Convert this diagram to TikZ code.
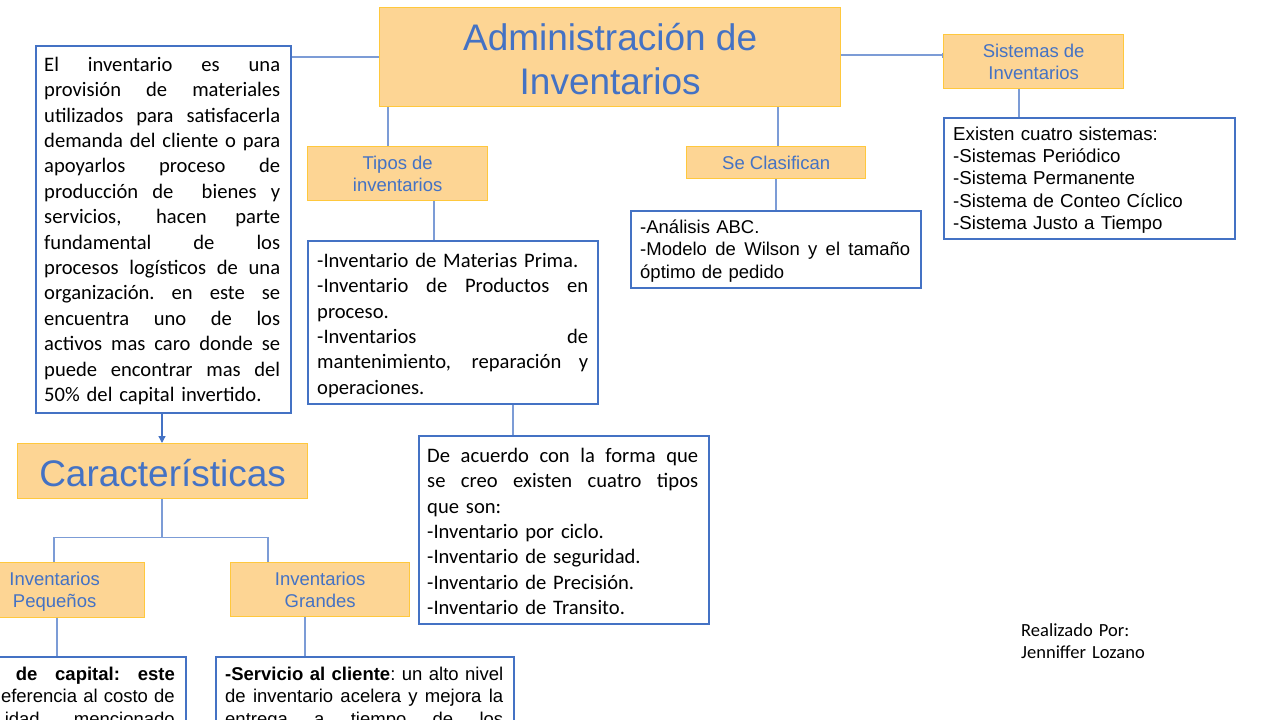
\documentclass[tikz,border=0pt]{standalone}
\usepackage{fontspec}
\setmainfont{Liberation Sans}
\newfontfamily\carl{Carlito}
\usetikzlibrary{arrows.meta}
\setlength{\parindent}{0pt}
\definecolor{boxfill}{HTML}{FDD594}
\definecolor{boxline}{HTML}{FFC83D}
\definecolor{tblue}{HTML}{4472C4}
\definecolor{cline}{HTML}{7C9CD6}
\newcommand{\spreadbox}[2]{\hbox to #1{\spaceskip=\fontdimen2\font plus 1fil\relax\xspaceskip=\spaceskip #2}}
\newcommand{\jline}[1]{\spreadbox{\hsize}{#1}}
\newcommand{\pline}[1]{\hbox to \hsize{#1\hfil}}
\newcommand{\rline}[1]{\hbox to \hsize{\hfil#1}}
\newcommand{\mystrut}[1]{\rule{0pt}{#1pt}}
\tikzset{
  obox/.style={draw=boxline, fill=boxfill, line width=1.3pt, inner sep=0pt, text=tblue, align=center, anchor=north west},
  wbox/.style={draw=tblue, fill=white, line width=1.8pt, inner sep=0pt, anchor=north west},
  conn/.style={draw=cline, line width=1.3pt},
  tx/.style={inner sep=0pt, anchor=north west},
  carlf/.style={font=\carl\fontsize{20.6}{25.4}\selectfont},
  arialf/.style={font=\fontsize{18.5}{22.4}\selectfont},
  labf/.style={font=\fontsize{18.5}{22}\selectfont},
}
\begin{document}
\begin{tikzpicture}[x=1pt,y=-1pt]
\useasboundingbox (0,0) rectangle (1280,720);
\clip (0,0) rectangle (1280,720);
\fill[white] (0,0) rectangle (1280,720);

% ---------- boxes ----------
\node[obox, minimum width=461pt, minimum height=99pt, font=\fontsize{37}{44}\selectfont] (title) at (379,7) {\mystrut{30.5}Administraci\smash{ó}n de\\Inventarios};
\node[wbox, minimum width=255pt, minimum height=367pt] (lbox) at (35,45) {};
\node[obox, minimum width=180pt, minimum height=54pt, labf] (sist) at (943,34) {Sistemas de\\Inventarios};
\node[wbox, minimum width=291pt, minimum height=121pt] (exist) at (943,117) {};
\node[obox, minimum width=180pt, minimum height=54pt, labf] (tipos) at (307,146) {Tipos de\\inventarios};
\node[wbox, minimum width=290pt, minimum height=163pt] (tlist) at (307,240) {};
\node[wbox, minimum width=290pt, minimum height=188pt] (acuerdo) at (418,435) {};
\node[obox, minimum width=179pt, minimum height=32pt, labf] (clas) at (686,146) {Se Clasifican};
\node[wbox, minimum width=290pt, minimum height=77pt] (analisis) at (630,210) {};
\node[obox, minimum width=290pt, minimum height=55pt, font=\fontsize{37}{44}\selectfont] (carac) at (17,443) {\mystrut{31}Caracter\smash{í}sticas};
\node[obox, minimum width=180pt, minimum height=55pt, labf] (peq) at (-36,562) {Inventarios\\Pe\smash{q}ueños};
\node[obox, minimum width=179pt, minimum height=54pt, labf] (gran) at (230,562) {Inventarios\\Grandes};
\node[wbox, minimum width=290pt, minimum height=100pt] (blbox) at (-105,656) {};
\node[wbox, minimum width=298pt, minimum height=100pt] (brbox) at (215,656) {};

% ---------- texts ----------
\node[tx, carlf, text width=236pt] (ltext) at (44,51) {%
\jline{\mystrut{20}El inventario es una}
\jline{provisión de materiales}
\jline{utilizados para satisfacerla}
\jline{demanda del cliente o para}
\jline{apoyarlos proceso de}
\jline{producción de \ bienes y}
\jline{servicios, hacen parte}
\jline{fundamental de los}
\jline{procesos logísticos de una}
\jline{organización. en este se}
\jline{encuentra uno de los}
\jline{activos mas caro donde se}
\jline{puede encontrar mas del}
\pline{50\% del capital invertido.}};

\node[tx, font=\fontsize{18.7}{22.3}\selectfont, text width=280pt] (etext) at (953,122) {%
\pline{\mystrut{18}Existen cuatro sistemas:}
\pline{-Sistemas Periódico}
\pline{-Sistema Permanente}
\pline{-Sistema de Conteo Cíclico}
\pline{-Sistema Justo a Tiempo}};

\node[tx, carlf, text width=271pt] (ttext) at (317,247) {%
\pline{\mystrut{20}-Inventario de Materias Prima.}
\jline{-Inventario de Productos en}
\pline{proceso.}
\jline{-Inventarios de}
\jline{mantenimiento, reparación y}
\pline{operaciones.}};

\node[tx, carlf, text width=271pt] (atext) at (427,442) {%
\jline{\mystrut{20}De acuerdo con la forma que}
\jline{se creo existen cuatro tipos}
\pline{que son:}
\pline{-Inventario por ciclo.}
\pline{-Inventario de seguridad.}
\pline{-Inventario de Precisión.}
\pline{-Inventario de Transito.}};

\node[tx, arialf, text width=270pt] (antext) at (640,215) {%
\pline{\mystrut{18}-Análisis ABC.}
\jline{-Modelo de Wilson y el tamaño}
\pline{óptimo de pedido}};

\node[tx, arialf, text width=270pt, anchor=north east] (bltext) at (175,662) {%
\rline{\mystrut{18}\bfseries\spreadbox{159pt}{de capital: este}}
\rline{eferencia al costo de}
\rline{\spreadbox{170pt}{idad mencionado}}};

\node[tx, arialf, text width=278pt] (brtext) at (225,662) {%
\jline{\mystrut{18}\textbf{-Servicio al cliente}: un alto nivel}
\jline{de inventario acelera y mejora la}
\jline{entrega a tiempo de los}};

\node[tx, font=\carl\fontsize{18.5}{22}\selectfont, text width=160pt] (autor) at (1021,619) {%
\pline{\mystrut{17}Realizado Por:}
\pline{Jenniffer Lozano}};

% ---------- connectors ----------
\draw[conn] ([yshift=-12pt]lbox.north east) -- ([yshift=-50pt]title.north west);
\draw[conn, -{Bar[width=5pt,line width=1pt]}] ([yshift=-48pt]title.north east) -- ([yshift=-21pt]sist.north west);
\draw[conn] ([xshift=76pt]sist.south west) -- ([xshift=76pt]exist.north west);
\draw[conn] ([xshift=9pt]title.south west) -- ([xshift=81pt]tipos.north west);
\draw[conn] ([xshift=127pt]tipos.south west) -- ([xshift=127pt]tlist.north west);
\draw[conn] ([xshift=206pt]tlist.south west) -- ([xshift=95pt]acuerdo.north west);
\draw[conn] ([xshift=399pt]title.south west) -- ([xshift=92pt]clas.north west);
\draw[conn] ([xshift=90pt]clas.south west) -- ([xshift=146pt]analisis.north west);
\draw[draw=tblue, line width=1.3pt, -{Triangle[length=7pt,width=7pt]}] ([xshift=127pt]lbox.south west) -- ([xshift=145pt]carac.north west);
\draw[conn] ([xshift=145pt]carac.south west) -- ++(0,38) coordinate (jn);
\draw[conn] ([xshift=90pt]peq.north west) |- (jn) -| ([xshift=38pt]gran.north west);
\draw[conn] ([xshift=93pt]peq.south west) -- ([xshift=162pt]blbox.north west);
\draw[conn] ([xshift=75pt]gran.south west) -- ([xshift=90pt]brbox.north west);
\end{tikzpicture}
\end{document}
